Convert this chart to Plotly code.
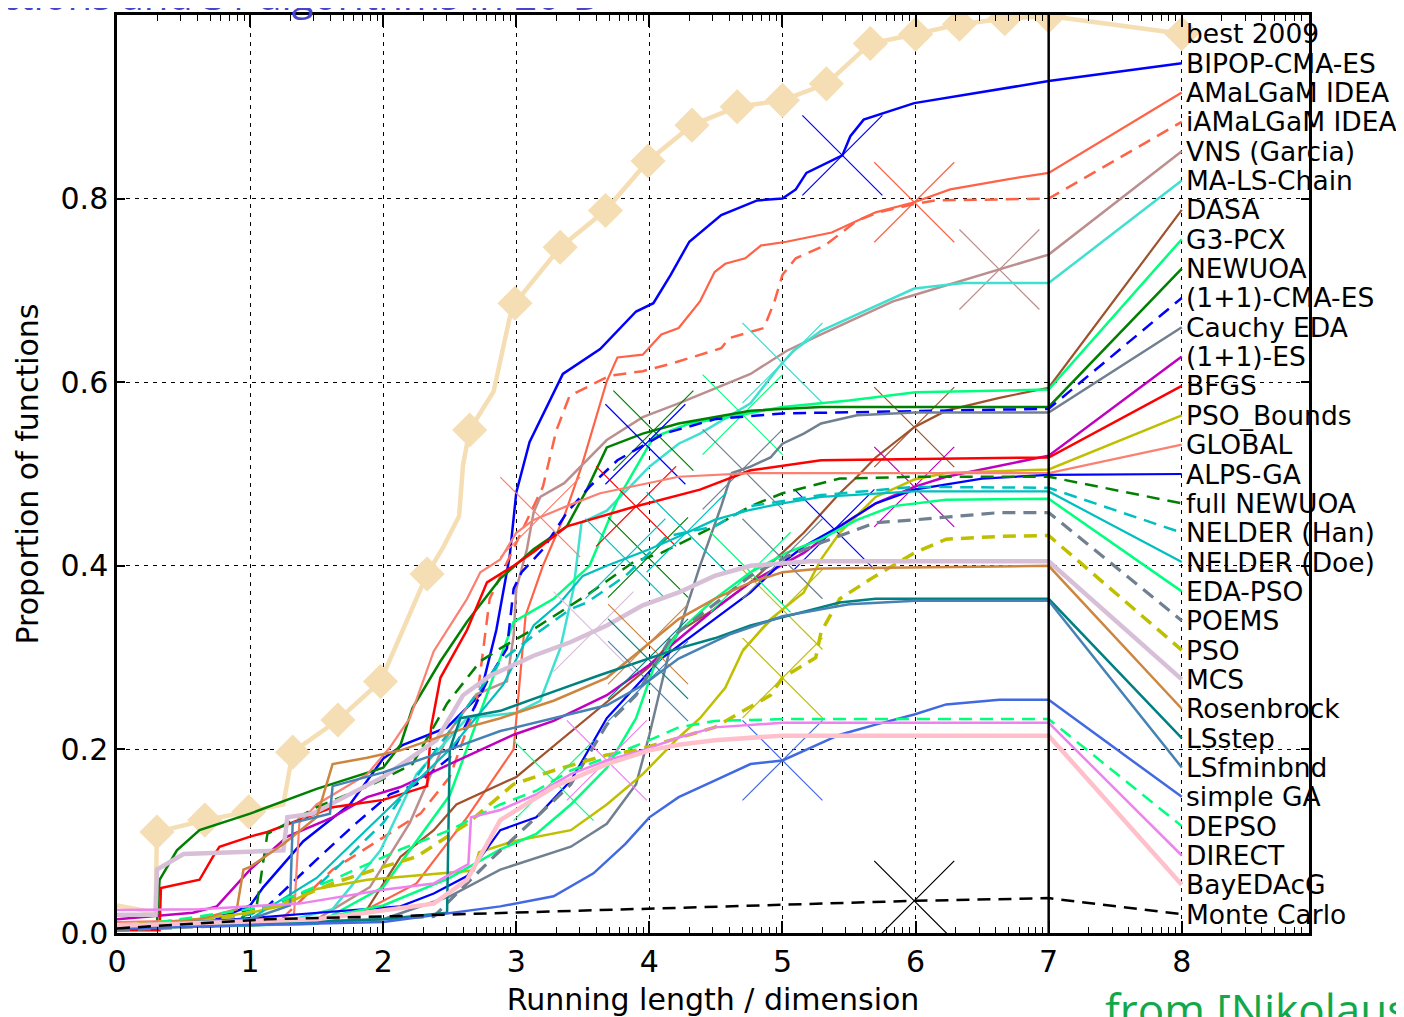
import numpy as np
import plotly.graph_objects as go

# ---------------- data ----------------
LABELS = ["best 2009", "BIPOP-CMA-ES", "AMaLGaM IDEA", "iAMaLGaM IDEA", "VNS (Garcia)",
          "MA-LS-Chain", "DASA", "G3-PCX", "NEWUOA", "(1+1)-CMA-ES", "Cauchy EDA",
          "(1+1)-ES", "BFGS", "PSO_Bounds", "GLOBAL", "ALPS-GA", "full NEWUOA",
          "NELDER (Han)", "NELDER (Doe)", "EDA-PSO", "POEMS", "PSO", "MCS", "Rosenbrock",
          "LSstep", "LSfminbnd", "simple GA", "DEPSO", "DIRECT", "BayEDAcG", "Monte Carlo"]

X_TICKS = [0, 1, 2, 3, 4, 5, 6, 7, 8]
Y_TICKS = [0.0, 0.2, 0.4, 0.6, 0.8, 1.0]
Y_TICKTEXT = ["0.0", "0.2", "0.4", "0.6", "0.8", "1.0"]

X_BEST = [0.0, 0.29, 0.30, 0.66, 0.99, 1.25, 1.32, 1.66, 1.98, 2.18, 2.33, 2.45, 2.57, 2.6, 2.65, 2.83, 2.95, 2.99, 3.33, 3.67, 3.99, 4.32, 4.66, 5.0, 5.33, 5.66, 6.0, 6.33, 6.67, 7.0]
Y_BEST = [0.03, 0.022, 0.11, 0.123, 0.132, 0.14, 0.197, 0.232, 0.274, 0.342, 0.391, 0.42, 0.454, 0.51, 0.548, 0.59, 0.67, 0.686, 0.747, 0.787, 0.841, 0.880, 0.900, 0.907, 0.925, 0.969, 0.979, 0.990, 0.996, 0.999]
BEST_MARK_X = [0.30, 0.66, 0.99, 1.32, 1.66, 1.98, 2.33, 2.65, 2.99, 3.33, 3.67, 3.99, 4.32, 4.66, 5.0, 5.33, 5.66, 6.0, 6.33, 6.67, 7.0, 8.0]

X_BIPOP = [0.0, 0.7, 1.0, 1.1, 1.4, 1.75, 2.0, 2.15, 2.48, 2.73, 2.85, 2.95, 3.0, 3.1, 3.35, 3.63, 3.9, 4.03, 4.16, 4.3, 4.54, 4.81, 5.0, 5.1, 5.18, 5.45, 5.51, 5.61, 5.99, 7.0]
Y_BIPOP = [0.008, 0.012, 0.03, 0.05, 0.1, 0.14, 0.19, 0.205, 0.224, 0.26, 0.33, 0.41, 0.48, 0.535, 0.609, 0.636, 0.677, 0.686, 0.717, 0.753, 0.782, 0.798, 0.80, 0.81, 0.828, 0.847, 0.868, 0.886, 0.904, 0.928]

X_AMALGAM = [0.0, 1.0, 1.5, 1.88, 2.25, 2.63, 2.98, 3.07, 3.2, 3.36, 3.49, 3.6, 3.68, 3.76, 3.95, 4.09, 4.22, 4.38, 4.49, 4.57, 4.72, 4.84, 5.03, 5.37, 5.7, 5.99, 6.26, 6.69, 7.0]
Y_AMALGAM = [0.005, 0.008, 0.012, 0.026, 0.054, 0.126, 0.2, 0.346, 0.40, 0.454, 0.508, 0.562, 0.601, 0.627, 0.63, 0.652, 0.659, 0.688, 0.72, 0.729, 0.735, 0.749, 0.753, 0.763, 0.785, 0.796, 0.81, 0.821, 0.828]

X_IAMALGAM = [0.0, 1.2, 1.62, 2.28, 2.5, 2.7, 2.8, 3.0, 3.2, 3.3, 3.4, 3.7, 3.95, 4.16, 4.54, 4.6, 4.86, 4.94, 5.0, 5.1, 5.32, 5.56, 5.72, 5.99, 6.15, 7.0]
Y_IAMALGAM = [0.005, 0.01, 0.069, 0.13, 0.17, 0.25, 0.364, 0.425, 0.486, 0.547, 0.585, 0.607, 0.612, 0.62, 0.637, 0.648, 0.659, 0.688, 0.717, 0.735, 0.749, 0.776, 0.785, 0.794, 0.798, 0.80]

X_VNS = [0.0, 1.5, 1.9, 2.2, 2.5, 2.7, 2.93, 2.98, 3.0, 3.08, 3.13, 3.18, 3.36, 3.68, 3.95, 4.22, 4.76, 5.03, 5.29, 5.56, 5.83, 5.99, 6.5, 7.0]
Y_VNS = [0.005, 0.015, 0.05, 0.12, 0.22, 0.26, 0.274, 0.324, 0.375, 0.418, 0.458, 0.475, 0.49, 0.537, 0.562, 0.577, 0.609, 0.634, 0.652, 0.67, 0.688, 0.695, 0.717, 0.739]

X_MALS = [0.0, 1.2, 1.62, 1.98, 2.25, 2.63, 3.0, 3.18, 3.33, 3.43, 3.49, 3.68, 4.0, 4.22, 4.38, 4.76, 4.97, 5.08, 5.29, 5.56, 5.99, 6.36, 7.0]
Y_MALS = [0.005, 0.01, 0.026, 0.09, 0.173, 0.234, 0.24, 0.253, 0.31, 0.375, 0.447, 0.46, 0.508, 0.533, 0.544, 0.577, 0.616, 0.634, 0.656, 0.674, 0.702, 0.708, 0.708]

X_DASA = [0.0, 1.5, 1.88, 2.13, 2.38, 2.55, 3.0, 3.5, 4.0, 4.22, 4.49, 4.76, 4.97, 5.16, 5.43, 5.56, 5.7, 5.83, 5.99, 6.23, 6.63, 7.0]
Y_DASA = [0.005, 0.01, 0.026, 0.083, 0.112, 0.14, 0.17, 0.23, 0.29, 0.328, 0.353, 0.382, 0.41, 0.436, 0.479, 0.497, 0.518, 0.533, 0.551, 0.569, 0.583, 0.594]

X_G3PCX = [0.0, 1.5, 2.0, 2.5, 2.98, 3.28, 3.55, 3.76, 4.03, 4.3, 4.6, 5.0, 5.5, 6.0, 7.0]
Y_G3PCX = [0.005, 0.01, 0.05, 0.15, 0.339, 0.364, 0.40, 0.472, 0.54, 0.555, 0.562, 0.573, 0.58, 0.589, 0.592]

X_NEWUOA = [0.0, 0.3, 0.32, 0.45, 0.62, 1.0, 1.5, 2.0, 2.13, 2.22, 2.43, 2.63, 2.88, 3.13, 3.38, 3.53, 3.68, 3.95, 4.22, 4.76, 5.29, 7.0]
Y_NEWUOA = [0.008, 0.01, 0.058, 0.09, 0.112, 0.13, 0.157, 0.18, 0.205, 0.245, 0.296, 0.339, 0.386, 0.418, 0.443, 0.483, 0.529, 0.544, 0.555, 0.569, 0.573, 0.573]

X_CMA11 = [0.0, 0.75, 1.13, 1.5, 1.8, 2.05, 2.25, 2.5, 2.78, 2.93, 2.98, 3.04, 3.2, 3.38, 3.55, 3.76, 4.11, 4.5, 5.0, 7.0]
Y_CMA11 = [0.005, 0.018, 0.029, 0.08, 0.12, 0.151, 0.162, 0.191, 0.274, 0.31, 0.375, 0.393, 0.418, 0.458, 0.486, 0.515, 0.544, 0.56, 0.566, 0.571]

X_CAUCHY = [0.0, 2.0, 2.5, 2.88, 3.41, 3.68, 3.9, 4.0, 4.16, 4.22, 4.38, 4.54, 4.62, 4.76, 4.91, 5.0, 5.16, 5.29, 5.56, 5.99, 7.0]
Y_CAUCHY = [0.005, 0.015, 0.04, 0.069, 0.094, 0.119, 0.162, 0.216, 0.313, 0.328, 0.40, 0.465, 0.501, 0.508, 0.518, 0.533, 0.544, 0.555, 0.564, 0.567, 0.567]

X_ES11 = [0.0, 0.57, 0.75, 1.0, 1.28, 1.62, 1.88, 2.13, 2.5, 2.98, 3.28, 3.68, 4.0, 4.16, 4.49, 4.76, 5.16, 5.43, 5.70, 5.99, 6.23, 7.0]
Y_ES11 = [0.015, 0.022, 0.029, 0.069, 0.105, 0.126, 0.148, 0.159, 0.184, 0.216, 0.231, 0.259, 0.292, 0.313, 0.353, 0.382, 0.414, 0.443, 0.468, 0.486, 0.497, 0.52]

X_BFGS = [0.0, 0.32, 0.33, 0.5, 0.62, 0.72, 0.77, 1.0, 1.13, 1.62, 2.0, 2.33, 2.36, 2.43, 2.63, 2.78, 2.98, 3.13, 3.38, 3.88, 4.38, 4.76, 5.29, 7.0]
Y_BFGS = [0.003, 0.003, 0.049, 0.054, 0.058, 0.083, 0.094, 0.105, 0.11, 0.137, 0.145, 0.16, 0.224, 0.278, 0.33, 0.382, 0.40, 0.415, 0.443, 0.464, 0.483, 0.504, 0.515, 0.518]

X_PSOB = [0.0, 1.0, 1.25, 1.5, 1.88, 2.68, 2.72, 2.98, 3.41, 3.68, 3.95, 4.22, 4.38, 4.57, 4.70, 4.91, 5.16, 5.29, 5.43, 5.7, 5.99, 6.23, 7.0]
Y_PSOB = [0.005, 0.022, 0.03, 0.048, 0.058, 0.068, 0.088, 0.10, 0.112, 0.14, 0.173, 0.213, 0.234, 0.267, 0.307, 0.342, 0.371, 0.407, 0.436, 0.475, 0.494, 0.501, 0.505]

X_GLOBAL = [0.0, 1.0, 1.33, 1.37, 1.5, 1.88, 2.05, 2.2, 2.38, 2.5, 2.63, 2.73, 2.88, 3.0, 3.13, 3.38, 3.63, 4.22, 4.76, 7.0]
Y_GLOBAL = [0.012, 0.015, 0.02, 0.12, 0.14, 0.173, 0.202, 0.234, 0.307, 0.335, 0.364, 0.393, 0.407, 0.436, 0.45, 0.465, 0.479, 0.497, 0.501, 0.501]

X_ALPS = [0.0, 2.13, 2.38, 2.63, 2.88, 3.15, 3.41, 3.68, 4.09, 4.49, 4.76, 4.97, 5.16, 5.43, 5.7, 5.99, 6.5, 7.0]
Y_ALPS = [0.005, 0.029, 0.043, 0.062, 0.112, 0.126, 0.166, 0.234, 0.299, 0.342, 0.371, 0.40, 0.421, 0.443, 0.468, 0.483, 0.495, 0.499]

X_FULLNEWUOA = [0.0, 0.9, 1.05, 1.13, 1.5, 1.92, 2.22, 2.48, 2.73, 2.88, 3.13, 3.33, 3.55, 3.88, 4.09, 4.49, 4.76, 5.0, 5.43, 5.99, 7.0]
Y_FULLNEWUOA = [0.008, 0.012, 0.03, 0.108, 0.137, 0.162, 0.184, 0.25, 0.296, 0.31, 0.331, 0.35, 0.37, 0.404, 0.414, 0.443, 0.465, 0.479, 0.495, 0.497, 0.497]

X_NELDERHAN = [0.0, 1.0, 1.5, 2.0, 2.5, 2.88, 3.13, 3.41, 3.53, 3.82, 4.13, 4.49, 4.76, 5.29, 5.99, 7.0]
Y_NELDERHAN = [0.005, 0.02, 0.05, 0.12, 0.22, 0.296, 0.324, 0.353, 0.36, 0.389, 0.432, 0.443, 0.465, 0.477, 0.486, 0.485]

X_NELDERDOE = [0.0, 1.0, 1.5, 2.0, 2.5, 2.9, 3.13, 3.33, 3.5, 3.68, 4.0, 4.22, 4.49, 4.76, 5.0, 5.29, 5.99, 7.0]
Y_NELDERDOE = [0.005, 0.015, 0.06, 0.13, 0.2, 0.27, 0.335, 0.36, 0.389, 0.40, 0.418, 0.432, 0.45, 0.461, 0.468, 0.475, 0.481, 0.481]

X_EDAPSO = [0.0, 1.5, 2.0, 2.5, 2.88, 3.15, 3.41, 3.68, 3.9, 4.03, 4.22, 4.49, 4.76, 5.03, 5.29, 5.56, 5.83, 6.23, 7.0]
Y_EDAPSO = [0.005, 0.015, 0.03, 0.06, 0.091, 0.108, 0.14, 0.18, 0.234, 0.288, 0.328, 0.364, 0.393, 0.414, 0.429, 0.45, 0.465, 0.472, 0.473]

X_POEMS = [0.0, 2.38, 2.63, 2.83, 3.15, 3.41, 3.68, 3.9, 4.16, 4.5, 4.76, 5.03, 5.29, 5.7, 5.99, 6.63, 7.0]
Y_POEMS = [0.003, 0.018, 0.054, 0.083, 0.126, 0.162, 0.227, 0.259, 0.321, 0.36, 0.389, 0.41, 0.425, 0.447, 0.45, 0.458, 0.458]

X_PSO = [0.0, 0.87, 1.25, 1.62, 2.0, 2.25, 2.63, 2.98, 3.28, 3.68, 3.9, 4.16, 4.49, 4.91, 5.0, 5.25, 5.29, 5.43, 5.7, 5.99, 6.23, 6.63, 7.0]
Y_PSO = [0.008, 0.018, 0.032, 0.054, 0.072, 0.083, 0.119, 0.162, 0.177, 0.194, 0.199, 0.21, 0.224, 0.259, 0.278, 0.30, 0.328, 0.364, 0.389, 0.414, 0.429, 0.432, 0.433]

X_MCS = [0.0, 0.29, 0.3, 0.5, 1.25, 1.28, 1.47, 2.0, 2.4, 2.6, 2.8, 3.13, 3.41, 3.68, 3.95, 4.22, 4.49, 4.76, 5.2, 7.0]
Y_MCS = [0.02, 0.02, 0.069, 0.086, 0.09, 0.126, 0.13, 0.17, 0.21, 0.259, 0.28, 0.302, 0.317, 0.335, 0.357, 0.371, 0.389, 0.40, 0.405, 0.405]

X_ROSEN = [0.0, 0.62, 0.9, 0.95, 1.0, 1.25, 1.5, 1.58, 1.62, 1.88, 2.13, 2.63, 2.88, 3.28, 3.68, 3.95, 4.22, 4.49, 4.76, 5.0, 5.29, 7.0]
Y_ROSEN = [0.008, 0.015, 0.026, 0.069, 0.072, 0.097, 0.126, 0.166, 0.184, 0.191, 0.199, 0.224, 0.234, 0.253, 0.278, 0.31, 0.342, 0.364, 0.382, 0.393, 0.397, 0.40]

X_LSSTEP = [0.0, 1.0, 2.0, 2.48, 2.5, 2.58, 2.88, 3.28, 3.63, 4.22, 4.49, 4.76, 5.16, 5.43, 5.7, 7.0]
Y_LSSTEP = [0.005, 0.01, 0.015, 0.022, 0.2, 0.234, 0.242, 0.263, 0.281, 0.31, 0.321, 0.335, 0.35, 0.36, 0.364, 0.364]

X_LSFMIN = [0.0, 1.0, 1.3, 1.32, 1.6, 1.62, 2.0, 2.5, 2.88, 3.28, 3.68, 3.95, 4.22, 4.6, 5.0, 5.5, 6.0, 7.0]
Y_LSFMIN = [0.008, 0.015, 0.03, 0.12, 0.13, 0.16, 0.175, 0.2, 0.22, 0.234, 0.248, 0.27, 0.299, 0.325, 0.345, 0.358, 0.362, 0.362]

X_SIMPLEGA = [0.0, 2.0, 2.88, 3.28, 3.58, 3.82, 4.0, 4.22, 4.49, 4.76, 5.0, 5.29, 5.43, 5.7, 5.99, 6.23, 6.63, 7.0]
Y_SIMPLEGA = [0.005, 0.012, 0.029, 0.04, 0.065, 0.097, 0.126, 0.148, 0.166, 0.184, 0.188, 0.207, 0.216, 0.227, 0.238, 0.249, 0.254, 0.254]

X_DEPSO = [0.0, 1.13, 1.62, 2.13, 2.5, 2.88, 3.15, 3.41, 3.68, 4.0, 4.22, 4.49, 5.0, 7.0]
Y_DEPSO = [0.005, 0.029, 0.058, 0.091, 0.112, 0.14, 0.155, 0.177, 0.191, 0.21, 0.224, 0.231, 0.233, 0.233]

X_DIRECT = [0.0, 0.62, 1.37, 2.0, 2.38, 2.64, 2.66, 2.88, 3.15, 3.41, 3.68, 3.95, 4.22, 4.49, 5.0, 7.0]
Y_DIRECT = [0.025, 0.026, 0.032, 0.047, 0.054, 0.075, 0.126, 0.134, 0.151, 0.173, 0.188, 0.199, 0.213, 0.224, 0.229, 0.229]

X_BAYEDA = [0.0, 1.5, 2.38, 2.63, 2.88, 3.28, 3.68, 4.0, 4.22, 4.49, 5.0, 7.0]
Y_BAYEDA = [0.008, 0.015, 0.032, 0.058, 0.123, 0.159, 0.184, 0.199, 0.205, 0.21, 0.215, 0.215]

X_MONTECARLO = [0.0, 1.13, 2.0, 2.98, 3.95, 5.0, 5.99, 7.0]
Y_MONTECARLO = [0.005, 0.015, 0.018, 0.022, 0.026, 0.031, 0.035, 0.038]

# x position of the large cross marker on each curve (None = no cross)
CROSS_X = [None, 5.45, 5.99, None, 6.63, 5.0, 5.99, 4.70, 4.03, 3.97, 4.70,
           5.99, 3.90, 5.0, 3.18, 5.39, 3.99, 4.28, 3.82, 4.76, 5.0, 5.0,
           3.58, 3.99, 3.99, 3.99, 5.0, 3.28, 3.68, None, 5.99]

SERIES_X = [X_BEST, X_BIPOP, X_AMALGAM, X_IAMALGAM, X_VNS, X_MALS, X_DASA, X_G3PCX,
            X_NEWUOA, X_CMA11, X_CAUCHY, X_ES11, X_BFGS, X_PSOB, X_GLOBAL, X_ALPS,
            X_FULLNEWUOA, X_NELDERHAN, X_NELDERDOE, X_EDAPSO, X_POEMS, X_PSO, X_MCS,
            X_ROSEN, X_LSSTEP, X_LSFMIN, X_SIMPLEGA, X_DEPSO, X_DIRECT, X_BAYEDA, X_MONTECARLO]
SERIES_Y = [Y_BEST, Y_BIPOP, Y_AMALGAM, Y_IAMALGAM, Y_VNS, Y_MALS, Y_DASA, Y_G3PCX,
            Y_NEWUOA, Y_CMA11, Y_CAUCHY, Y_ES11, Y_BFGS, Y_PSOB, Y_GLOBAL, Y_ALPS,
            Y_FULLNEWUOA, Y_NELDERHAN, Y_NELDERDOE, Y_EDAPSO, Y_POEMS, Y_PSO, Y_MCS,
            Y_ROSEN, Y_LSSTEP, Y_LSFMIN, Y_SIMPLEGA, Y_DEPSO, Y_DIRECT, Y_BAYEDA, Y_MONTECARLO]

# ---------------- styles ----------------
COLORS = ["#F5DEB3", "#0000FF", "#FF6347", "#FF6347", "#BC8F8F", "#40E0D0", "#A0522D",
          "#00FF7F", "#008000", "#0000FF", "#708090", "#BF00BF", "#FF0000", "#BFBF00",
          "#FA8072", "#0000FF", "#008000", "#00BFBF", "#00BFBF", "#00FF7F", "#708090",
          "#BFBF00", "#D8BFD8", "#CD853F", "#008080", "#4682B4", "#4169E1", "#00FF7F",
          "#EE82EE", "#FFC0CB", "#000000"]
DASHED = [False, False, False, True, False, False, False, False, False, True, False,
          False, False, False, False, False, True, True, False, False, True, True,
          False, False, False, False, False, True, False, False, True]
WIDTHS = [4.5, 2.5, 2.2, 2.5, 2.5, 2.5, 2.2, 2.5, 2.5, 2.5, 2.5, 2.5, 2.5, 2.5, 2.2,
          2.2, 2.5, 2.5, 2.2, 2.5, 3.2, 3.5, 4.5, 2.5, 2.5, 2.5, 2.5, 2.5, 2.5, 4.5, 2.5]

FONT = "DejaVu Sans"
END_X = 8.0
label_y = np.linspace(0.9795, 0.0205, len(LABELS))

# page has an 8px body margin: figure is laid out so the plot box lands at
# x 117..1309, y 12..937 of the window
FIG_W, FIG_H = 1396, 1009
M_L, M_R, M_T, M_B = 109, 95, 4, 80

fig = go.Figure()

for i in range(len(LABELS)):
    xs = list(SERIES_X[i]) + [END_X]
    ys = list(SERIES_Y[i]) + [float(label_y[i])]
    fig.add_trace(go.Scatter(
        x=xs, y=ys, mode="lines", hoverinfo="skip",
        line=dict(color=COLORS[i], width=WIDTHS[i],
                  dash="13px,8px" if DASHED[i] else "solid")))
    if i == 0:
        mx = np.array(BEST_MARK_X)
        my = np.interp(mx, xs, ys)
        fig.add_trace(go.Scatter(
            x=mx, y=my, mode="markers", hoverinfo="skip",
            marker=dict(symbol="diamond", size=27, color=COLORS[i],
                        line=dict(width=0))))
    if CROSS_X[i] is not None:
        cy = float(np.interp(CROSS_X[i], SERIES_X[i], SERIES_Y[i]))
        fig.add_trace(go.Scatter(
            x=[CROSS_X[i]], y=[cy], mode="markers", hoverinfo="skip",
            marker=dict(symbol="x-thin", size=80, color=COLORS[i],
                        line=dict(width=1.2, color=COLORS[i]))))

# right-hand labels
for i, name in enumerate(LABELS):
    fig.add_annotation(x=END_X, y=float(label_y[i]), xref="x", yref="y",
                       text=name, showarrow=False, xanchor="left", yanchor="middle",
                       xshift=2, font=dict(family=FONT, size=26.5, color="black"))

# vertical solid line at 7
fig.add_shape(type="line", x0=7, x1=7, y0=0, y1=1, xref="x", yref="y",
              line=dict(color="black", width=2.5), layer="above")

# partially visible texts at the page edges (positions in figure pixels)
pw = FIG_W - M_L - M_R
ph = FIG_H - M_T - M_B
top_x_px, top_y_px = 596, -17
bot_x_px, bot_y_px = 1095, 1006
fig.add_annotation(x=(top_x_px - M_L) / pw, y=1 + (M_T - top_y_px) / ph,
                   xref="paper", yref="paper", text="ctions and 31 algorithms in 20-D",
                   showarrow=False, xanchor="right", yanchor="middle",
                   font=dict(family="Open Sans", size=40, color="#4444CC"))
fig.add_annotation(x=(bot_x_px - M_L) / pw, y=-(bot_y_px - (FIG_H - M_B)) / ph,
                   xref="paper", yref="paper", text="from [Nikolaus",
                   showarrow=False, xanchor="left", yanchor="middle",
                   font=dict(family="Open Sans", size=44, color="#12A84A"))

minor_vals = []
for n in range(0, 9):
    for k in range(2, 10):
        v = n + np.log10(k)
        if v < 8.95:
            minor_vals.append(round(float(v), 4))

fig.update_layout(
    width=FIG_W, height=FIG_H,
    margin=dict(l=M_L, r=M_R, t=M_T, b=M_B),
    plot_bgcolor="white", paper_bgcolor="white",
    showlegend=False,
    font=dict(family=FONT, color="black"),
    xaxis=dict(range=[0, 8.956], tickmode="array", tickvals=X_TICKS,
               ticktext=[str(v) for v in X_TICKS],
               ticks="inside", ticklen=12, tickwidth=1.5, tickcolor="black",
               showline=True, linewidth=2.5, linecolor="black", mirror="allticks",
               showgrid=True, gridcolor="black", gridwidth=1.3, griddash="4px,5px",
               zeroline=False, tickfont=dict(size=30, family=FONT),
               minor=dict(tickmode="array", tickvals=minor_vals, ticks="inside",
                          ticklen=6, tickwidth=1.2, tickcolor="black", showgrid=False),
               title=dict(text="Running length / dimension", font=dict(size=30, family=FONT),
                          standoff=13)),
    yaxis=dict(range=[0, 1], tickmode="array", tickvals=Y_TICKS, ticktext=Y_TICKTEXT,
               ticks="inside", ticklen=8, tickwidth=1.5, tickcolor="black",
               showline=True, linewidth=2.5, linecolor="black", mirror="allticks",
               showgrid=True, gridcolor="black", gridwidth=1.3, griddash="4px,5px",
               zeroline=False, tickfont=dict(size=30, family=FONT),
               title=dict(text="Proportion of functions", font=dict(size=30, family=FONT),
                          standoff=14)),
)

fig.write_html("out.html")
